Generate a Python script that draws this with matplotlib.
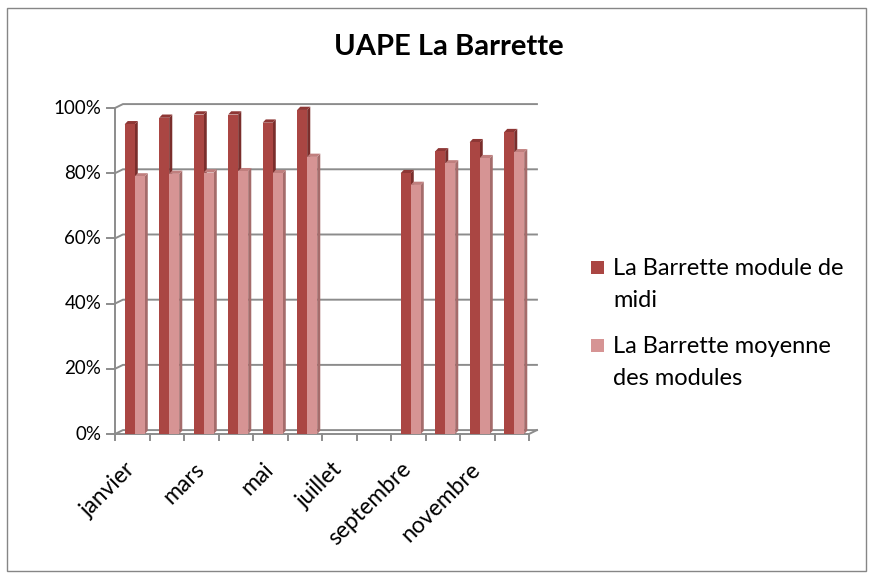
import matplotlib.pyplot as plt
import numpy as np
from matplotlib.patches import Polygon, Rectangle

months = ["janvier", "février", "mars", "avril", "mai", "juin",
          "juillet", "août", "septembre", "octobre", "novembre", "décembre"]
midi = [95.0, 97.0, 98.0, 98.0, 95.5, 99.4, np.nan, np.nan, 80.0, 86.7, 89.5, 92.6]
moyenne = [79.0, 79.8, 80.2, 80.6, 80.0, 85.0, np.nan, np.nan, 76.4, 83.0, 84.6, 86.4]
yticks = [0, 20, 40, 60, 80, 100]
series_labels = [["La Barrette module de", "midi"], ["La Barrette moyenne", "des modules"]]

plt.rcParams["font.family"] = ["Lato", "DejaVu Sans"]

DARK, DARK_SIDE, DARK_TOP = "#AA4643", "#7A2E2C", "#8E3735"
LIGHT, LIGHT_SIDE, LIGHT_TOP = "#D69494", "#A56C6B", "#C07F7E"
GRID = "#8C8C8C"
DX, DY = 0.23, 1.2      # back-wall offset
BDX, BDY = 0.09, 1.0    # bar depth

fig = plt.figure(figsize=(8.74, 5.78), dpi=100)
ax = fig.add_axes([115 / 874, 1 - 434 / 578, 414 / 874, 326 / 578])
ax.set_xlim(-0.5, 11.5)
ax.set_ylim(0, 100)
ax.axis("off")

x = np.arange(len(months))
n = len(months)

# back wall gridlines and floor
for yv in yticks:
    ax.plot([-0.5, -0.5 + DX, n - 0.5 + DX], [yv, yv + DY, yv + DY],
            color=GRID, lw=1.4, clip_on=False, zorder=1)
    ax.plot([-0.5 - 0.22, -0.5], [yv, yv], color=GRID, lw=1.4, clip_on=False)
ax.plot([-0.5, -0.5], [0, 100], color=GRID, lw=1.4, clip_on=False)
ax.plot([-0.5, n - 0.5, n - 0.5 + DX], [0, 0, DY], color=GRID, lw=1.4, clip_on=False)
for xv in np.arange(-0.5, n, 1.0):
    ax.plot([xv, xv], [0, -1.8], color=GRID, lw=1.4, clip_on=False)

w = 0.29
for vals, off, front, side, top in [(midi, -0.22, DARK, DARK_SIDE, DARK_TOP),
                                    (moyenne, 0.07, LIGHT, LIGHT_SIDE, LIGHT_TOP)]:
    for xi, v in zip(x, vals):
        if np.isnan(v):
            continue
        l = xi + off
        r = l + w
        ax.add_patch(Polygon([(r, 0), (r + BDX, BDY), (r + BDX, v + BDY), (r, v)],
                             closed=True, fc=side, ec="none", zorder=3, clip_on=False))
        ax.add_patch(Polygon([(l, v), (l + BDX, v + BDY), (r + BDX, v + BDY), (r, v)],
                             closed=True, fc=top, ec="none", zorder=3, clip_on=False))
    ax.bar(x + off, vals, width=w, align="edge", color=front, zorder=4)

for yv in yticks:
    ax.text(-0.5 - 0.4, yv, f"{yv}%", ha="right", va="center", fontsize=13.5)

for xi, m in zip(x, months):
    if xi % 2 == 0:
        ax.text(xi - 0.22, -7.5, m, rotation=45, ha="right", va="top",
                rotation_mode="anchor", fontsize=16.5)

fig.text(449 / 874, 1 - 47 / 578, "UAPE La Barrette", ha="center", va="center",
         fontsize=21, fontweight="bold")

# legend, one line of text at a time so the box sits on the first line
for (line1, line2), col, y0 in zip(series_labels, [DARK, LIGHT], [275, 353]):
    fig.patches.append(Rectangle((591 / 874, 1 - (y0 - 1) / 578), 13 / 874, 13 / 578,
                                 transform=fig.transFigure, fc=col, ec="none"))
    fig.text(613 / 874, 1 - y0 / 578, line1, ha="left", va="baseline", fontsize=17)
    fig.text(613 / 874, 1 - (y0 + 32) / 578, line2, ha="left", va="baseline", fontsize=17)

fig.patches.append(Rectangle((7 / 874, 7 / 578), 859 / 874, 563 / 578,
                             transform=fig.transFigure, fill=False,
                             ec="#868686", lw=1.0))

fig.savefig("out.png", dpi=100)
